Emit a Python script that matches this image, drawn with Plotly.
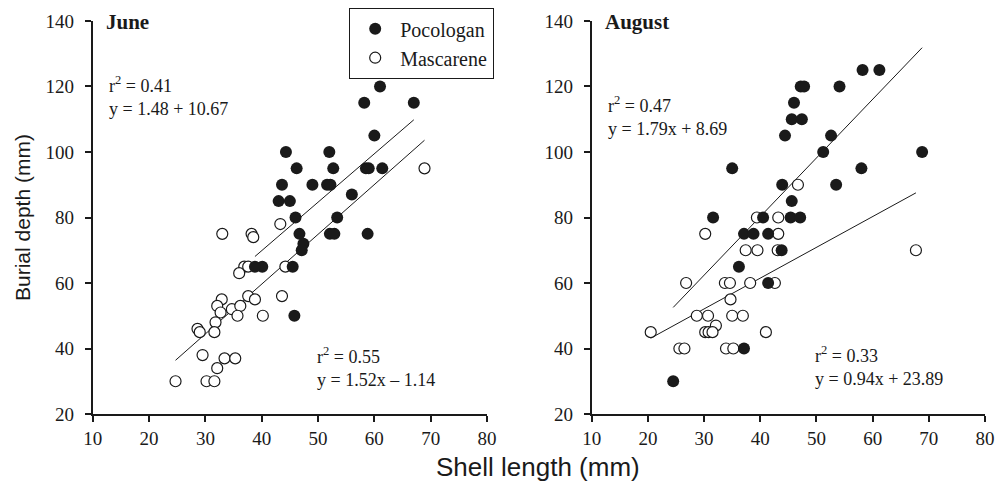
import plotly.graph_objects as go

# ---------------- data ----------------
june_poco_x = [44.3, 46.2, 43.6, 43.0, 45.0, 46.0, 61.0, 58.2, 67.0, 60.0, 52.0, 52.7, 58.5, 59.0, 61.4,
               49.0, 51.6, 52.2, 56.0, 53.4, 46.7, 52.1, 52.9, 58.8, 47.4, 47.1, 45.5, 40.1, 38.8, 45.8]
june_poco_y = [100, 95, 90, 85, 85, 80, 120, 115, 115, 105, 100, 95, 95, 95, 95,
               90, 90, 90, 87, 80, 75, 75, 75, 75, 72, 70, 65, 65, 65, 50]
june_masc_x = [43.3, 33.0, 38.2, 38.5, 68.9, 44.2, 43.6, 36.9, 37.6, 36.0, 37.6, 38.8, 40.2, 32.9, 32.1,
               34.7, 36.2, 32.7, 35.7, 31.8, 28.6, 29.0, 31.6, 29.5, 33.4, 35.3, 32.1, 24.7, 30.2, 31.6]
june_masc_y = [78, 75, 75, 74, 95, 65, 56, 65, 65, 63, 56, 55, 50, 55, 53,
               52, 53, 51, 50, 48, 46, 45, 45, 38, 37, 37, 34, 30, 30, 30]

aug_poco_x = [35.0, 43.9, 44.4, 31.6, 40.5, 45.4, 47.1, 37.1, 38.8, 41.4, 58.2, 61.2, 47.2, 47.8, 54.1,
              46.0, 45.6, 47.4, 52.6, 51.2, 68.8, 58.0, 53.5, 45.6, 43.8, 36.2, 41.4, 37.1, 24.5]
aug_poco_y = [95, 90, 105, 80, 80, 80, 80, 75, 75, 75, 125, 125, 120, 120, 120,
              115, 110, 110, 105, 100, 100, 95, 90, 85, 70, 65, 60, 40, 30]
aug_masc_x = [30.2, 39.4, 43.2, 43.2, 46.7, 37.4, 39.5, 43.1, 26.8, 33.7, 34.6, 38.2, 42.6, 34.7, 28.7,
              30.7, 35.0, 36.9, 32.1, 30.2, 30.8, 31.5, 20.5, 41.0, 25.6, 26.5, 33.9, 35.2, 67.7]
aug_masc_y = [75, 80, 80, 75, 90, 70, 70, 70, 60, 60, 60, 60, 60, 55, 50,
              50, 50, 50, 47, 45, 45, 45, 45, 45, 40, 40, 40, 40, 70]

# regression coefficients (slope, intercept)
june_poco_fit = [1.48, 10.67]
june_masc_fit = [1.52, -1.14]
aug_poco_fit = [1.79, 8.69]
aug_masc_fit = [0.94, 23.89]

series_names = ["Pocologan", "Mascarene"]
panel_titles = ["June", "August"]
fit_labels = [
    ["r<sup>2</sup> = 0.41<br>y = 1.48 + 10.67", "r<sup>2</sup> = 0.55<br>y = 1.52x \u2013 1.14"],
    ["r<sup>2</sup> = 0.47<br>y = 1.79x + 8.69", "r<sup>2</sup> = 0.33<br>y = 0.94x + 23.89"],
]
x_ticks = [10, 20, 30, 40, 50, 60, 70, 80]
y_ticks = [20, 40, 60, 80, 100, 120, 140]

SERIF = "Liberation Serif, Times New Roman, serif"
SANS = "Liberation Sans, Arial, sans-serif"
INK = "#1a1a1a"

fig = go.Figure()

panels = [
    ("x", "y", june_poco_x, june_poco_y, june_masc_x, june_masc_y, june_poco_fit, june_masc_fit, True),
    ("x2", "y2", aug_poco_x, aug_poco_y, aug_masc_x, aug_masc_y, aug_poco_fit, aug_masc_fit, False),
]

for xa, ya, px, py, mx, my, pfit, mfit, show in panels:
    # regression lines
    for xs, fit in ((px, pfit), (mx, mfit)):
        x0, x1 = min(xs), max(xs)
        fig.add_trace(go.Scatter(
            x=[x0, x1], y=[fit[0] * x0 + fit[1], fit[0] * x1 + fit[1]],
            mode="lines", line=dict(color=INK, width=1), showlegend=False,
            hoverinfo="skip", xaxis=xa, yaxis=ya))
    # Mascarene (open) first so filled dots overlay
    fig.add_trace(go.Scatter(
        x=mx, y=my, mode="markers", name=series_names[1], showlegend=show, legendrank=2,
        marker=dict(symbol="circle", size=11, color="white", line=dict(color=INK, width=1.2)),
        xaxis=xa, yaxis=ya))
    fig.add_trace(go.Scatter(
        x=px, y=py, mode="markers", name=series_names[0], showlegend=show, legendrank=1,
        marker=dict(symbol="circle", size=12, color=INK, line=dict(color=INK, width=0)),
        xaxis=xa, yaxis=ya))

axis_common = dict(
    showline=True, linecolor=INK, linewidth=2, ticks="outside", ticklen=6, tickwidth=2,
    tickcolor=INK, showgrid=False, zeroline=False, automargin=False,
    tickfont=dict(family=SERIF, size=19, color=INK),
)
yaxis_extra = dict(ticklabelstandoff=7)

fig.update_layout(
    width=997, height=488,
    margin=dict(l=0, r=0, t=0, b=0, pad=0, autoexpand=False),
    paper_bgcolor="white", plot_bgcolor="white",
    xaxis=dict(domain=[0.093, 0.4885], range=[10, 80], tickvals=x_ticks, anchor="y", **axis_common),
    yaxis=dict(domain=[0.1516, 0.957], range=[20, 140], tickvals=y_ticks, anchor="x",
               **axis_common, **yaxis_extra),
    xaxis2=dict(domain=[0.5935, 0.988], range=[10, 80], tickvals=x_ticks, anchor="y2", **axis_common),
    yaxis2=dict(domain=[0.1516, 0.957], range=[20, 140], tickvals=y_ticks, anchor="x2",
                **axis_common, **yaxis_extra),
    legend=dict(
        x=349 / 997, y=(488 - 8) / 488, xanchor="left", yanchor="top",
        bgcolor="white", bordercolor=INK, borderwidth=1.2,
        font=dict(family=SERIF, size=20, color=INK), itemwidth=40,
    ),
    showlegend=True,
)

annotations = []
for i, (xa, ya) in enumerate((("x", "y"), ("x2", "y2"))):
    annotations.append(dict(
        text="<b>%s</b>" % panel_titles[i], x=12.0, y=139.7, xref=xa, yref=ya,
        xanchor="left", yanchor="middle", showarrow=False,
        font=dict(family=SERIF, size=21, color=INK)))
annotations += [
    dict(text=fit_labels[0][0], x=12.5, y=117.2, xref="x", yref="y", xanchor="left", yanchor="middle",
         align="left", showarrow=False, font=dict(family=SERIF, size=18, color=INK)),
    dict(text=fit_labels[0][1], x=49.4, y=34.4, xref="x", yref="y", xanchor="left", yanchor="middle",
         align="left", showarrow=False, font=dict(family=SERIF, size=18, color=INK)),
    dict(text=fit_labels[1][0], x=12.5, y=111.1, xref="x2", yref="y2", xanchor="left", yanchor="middle",
         align="left", showarrow=False, font=dict(family=SERIF, size=18, color=INK)),
    dict(text=fit_labels[1][1], x=49.4, y=34.6, xref="x2", yref="y2", xanchor="left", yanchor="middle",
         align="left", showarrow=False, font=dict(family=SERIF, size=18, color=INK)),
    dict(text="Shell length (mm)", x=538 / 997, y=(488 - 467) / 488, xref="paper", yref="paper",
         xanchor="center", yanchor="middle", showarrow=False,
         font=dict(family=SANS, size=26, color=INK)),
    dict(text="Burial depth (mm)", x=22 / 997, y=(488 - 218) / 488, xref="paper", yref="paper",
         xanchor="center", yanchor="middle", textangle=-90, showarrow=False,
         font=dict(family=SANS, size=21, color=INK)),
]
fig.update_layout(annotations=annotations)

fig.write_html("out.html")
